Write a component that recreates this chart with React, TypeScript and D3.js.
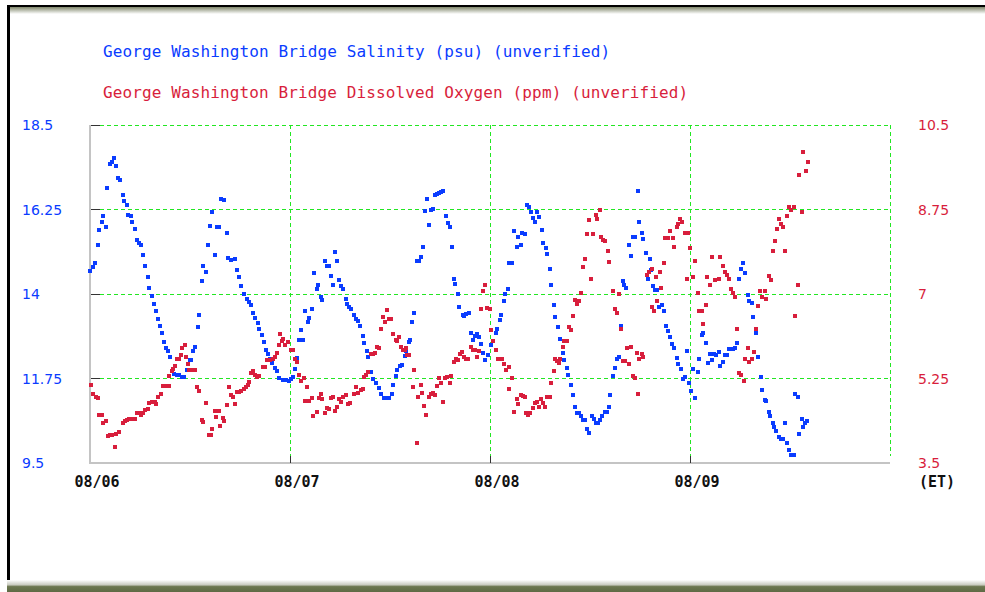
import * as d3 from 'd3';
import React, { useEffect, useRef } from 'react';

const salinityTitle = 'George Washington Bridge Salinity (psu) (unverified)';
const oxygenTitle = 'George Washington Bridge Dissolved Oxygen (ppm) (unverified)';
const dayLabels = ['08/06', '08/07', '08/08', '08/09'];
const dayHours = [0, 24, 48, 72];
const salinityTicks = [9.5, 11.75, 14, 16.25, 18.5];
const oxygenTicks = [3.5, 5.25, 7, 8.75, 10.5];

// [hours since 08/06 00:00 ET, psu]
const salinity: [number, number][] = [
  [0, 14.6], [0.32, 14.71], [0.6, 14.82], [0.92, 15.3], [1.12, 15.7], [1.4, 15.93], [1.6, 16.07], [1.92, 15.78],
  [2.08, 16.81], [2.4, 17.45], [2.6, 17.51], [2.88, 17.61], [3.08, 17.4], [3.4, 17.1], [3.6, 17.03], [3.92, 16.63],
  [4.12, 16.48], [4.4, 16.36], [4.6, 16.1], [4.88, 16.07], [5.08, 15.93], [5.44, 15.74], [5.6, 15.44], [5.92, 15.37],
  [6.12, 15.3], [6.4, 15.03], [6.6, 14.74], [6.92, 14.45], [7.12, 14.15], [7.4, 13.96], [7.64, 13.74], [7.92, 13.56],
  [8.12, 13.33], [8.4, 13.15], [8.6, 12.97], [8.92, 12.71], [9.12, 12.55], [9.36, 12.47], [9.6, 12.33], [10.08, 11.86],
  [10.4, 11.84], [10.72, 11.83], [11.0, 11.8], [11.28, 11.78], [11.64, 11.98], [11.96, 12.25], [12.16, 12.25], [12.4, 12.48],
  [12.64, 12.6], [12.96, 13.12], [13.12, 13.44], [13.44, 14.34], [13.6, 14.74], [13.92, 14.58], [14.12, 15.3], [14.44, 15.81],
  [14.6, 16.19], [14.96, 15.04], [15.2, 15.78], [15.52, 15.78], [15.68, 16.53], [16.08, 16.49], [16.48, 15.63], [16.6, 14.97],
  [16.96, 14.91], [17.36, 14.92], [17.6, 14.64], [17.92, 14.46], [18.16, 14.2], [18.48, 13.99], [18.8, 13.86], [19.12, 13.79],
  [19.36, 13.71], [19.6, 13.49], [19.84, 13.35], [20.12, 13.22], [20.32, 13.07], [20.6, 12.91], [20.84, 12.71], [21.12, 12.51],
  [21.36, 12.39], [21.6, 12.26], [21.84, 12.15], [22.16, 12.02], [22.4, 11.96], [22.64, 11.76], [23.12, 11.71], [23.52, 11.71],
  [23.92, 11.69], [24.16, 11.75], [24.4, 11.8], [24.64, 11.99], [24.88, 12.3], [25.12, 12.78], [25.36, 13.04], [25.52, 12.78],
  [25.84, 13.56], [26.16, 13.26], [26.32, 13.36], [26.64, 13.59], [26.88, 14.55], [27.2, 14.12], [27.36, 14.23], [27.68, 13.91],
  [27.84, 13.84], [28.16, 14.89], [28.4, 14.75], [28.64, 14.75], [28.88, 14.48], [29.2, 14.23], [29.36, 15.11], [29.68, 14.89],
  [29.84, 14.37], [30.16, 14.21], [30.4, 14.14], [30.72, 13.88], [30.88, 13.73], [31.12, 13.66], [31.36, 13.59], [31.68, 13.43],
  [31.92, 13.33], [32.16, 13.27], [32.4, 13.15], [32.72, 12.88], [32.88, 12.7], [33.2, 12.48], [33.36, 12.33], [33.68, 11.93],
  [34.0, 11.75], [34.32, 11.64], [34.64, 11.51], [34.96, 11.34], [35.28, 11.23], [35.6, 11.23], [35.92, 11.23], [36.24, 11.34],
  [36.4, 11.59], [36.72, 11.82], [36.88, 11.97], [37.2, 12.08], [37.44, 12.12], [37.76, 12.35], [37.92, 12.49], [38.24, 12.72],
  [38.4, 12.78], [38.64, 13.26], [38.88, 13.49], [39.2, 14.89], [39.44, 14.89], [39.68, 14.99], [39.92, 15.26], [40.16, 16.22],
  [40.4, 16.54], [40.64, 15.85], [40.88, 16.24], [41.2, 16.27], [41.36, 16.63], [41.68, 16.66], [41.92, 16.7], [42.16, 16.72],
  [42.4, 16.73], [42.72, 16.09], [42.96, 15.9], [43.2, 15.78], [43.44, 15.26], [43.68, 14.41], [43.84, 14.27], [44.16, 14.0],
  [44.32, 13.66], [44.72, 13.43], [44.88, 13.42], [45.12, 13.47], [45.44, 13.49], [45.76, 12.97], [45.92, 12.78], [46.16, 12.88],
  [46.4, 12.93], [46.64, 12.86], [46.96, 12.67], [47.2, 12.44], [47.44, 12.23], [47.76, 12.37], [48.16, 12.63], [48.4, 12.76],
  [48.72, 12.95], [48.88, 13.08], [49.2, 13.31], [49.36, 13.45], [49.68, 13.81], [49.84, 14.0], [50.16, 14.14], [50.32, 14.82],
  [50.64, 14.82], [50.88, 15.67], [51.2, 15.26], [51.36, 15.51], [51.68, 15.3], [51.84, 15.63], [52.24, 15.6], [52.4, 16.36],
  [52.72, 16.31], [52.88, 16.18], [53.2, 16.02], [53.36, 15.92], [53.68, 16.18], [53.92, 16.04], [54.24, 15.7], [54.4, 15.37],
  [54.72, 15.23], [54.88, 15.07], [55.2, 14.66], [55.36, 14.23], [55.68, 13.7], [55.84, 13.38], [56.16, 13.11], [56.4, 12.81],
  [56.72, 12.44], [56.88, 12.23], [57.2, 12.03], [57.36, 11.85], [57.76, 11.59], [57.92, 11.3], [58.16, 11.0], [58.4, 10.84],
  [58.64, 10.82], [58.88, 10.75], [59.2, 10.65], [59.44, 10.65], [59.68, 10.4], [59.92, 10.29], [60.24, 10.75], [60.48, 10.66],
  [60.72, 10.56], [60.96, 10.56], [61.2, 10.65], [61.44, 10.75], [61.76, 10.86], [62.0, 10.86], [62.24, 10.98], [62.4, 11.3],
  [62.72, 11.82], [62.96, 12.03], [63.2, 12.26], [63.44, 12.33], [63.76, 13.15], [63.92, 14.34], [64.08, 14.25], [64.32, 14.16],
  [64.72, 15.3], [64.88, 15.01], [65.2, 15.51], [65.44, 15.51], [65.76, 16.73], [65.92, 15.92], [66.24, 15.62], [66.4, 15.47],
  [66.72, 15.1], [66.96, 14.41], [67.2, 14.92], [67.36, 14.64], [67.52, 14.21], [67.84, 14.11], [68.08, 14.11], [68.32, 13.66],
  [68.64, 13.7], [68.88, 13.56], [69.12, 13.15], [69.36, 13.01], [69.6, 12.85], [69.84, 12.67], [70.08, 12.55], [70.4, 12.3],
  [70.56, 12.14], [70.88, 11.99], [71.12, 11.75], [71.44, 11.78], [71.6, 12.49], [71.92, 11.64], [72.08, 11.41], [72.4, 12.01],
  [72.64, 11.23], [72.96, 11.92], [73.12, 12.26], [73.44, 12.9], [73.6, 12.97], [73.92, 12.7], [74.16, 12.15], [74.4, 12.4],
  [74.64, 12.23], [74.88, 12.4], [75.12, 12.37], [75.44, 12.46], [75.6, 12.08], [75.92, 12.19], [76.16, 12.37], [76.4, 12.37],
  [76.64, 12.53], [76.88, 12.53], [77.12, 12.54], [77.44, 12.56], [77.6, 12.7], [77.92, 14.41], [78.16, 14.66], [78.4, 14.82],
  [78.64, 14.55], [78.96, 13.97], [79.12, 13.82], [79.44, 13.77], [79.6, 13.4], [79.92, 12.95], [80.16, 12.33], [80.48, 11.78],
  [80.64, 11.44], [80.96, 11.18], [81.12, 11.14], [81.44, 10.86], [81.6, 10.75], [81.92, 10.56], [82.08, 10.45], [82.32, 10.34],
  [82.64, 10.18], [82.88, 10.15], [83.12, 10.13], [83.44, 10.56], [83.68, 10.04], [83.92, 9.85], [84.16, 9.7], [84.48, 9.7],
  [84.64, 11.34], [84.96, 11.25], [85.12, 10.27], [85.44, 10.66], [85.6, 10.45], [85.84, 10.56], [86.08, 10.63],
];

// [hours since 08/06 00:00 ET, ppm]
const oxygen: [number, number][] = [
  [0.08, 5.11], [0.4, 4.93], [0.72, 4.87], [0.96, 4.85], [1.12, 4.5], [1.4, 4.5], [1.6, 4.32], [1.92, 4.38],
  [2.12, 4.05], [2.4, 4.08], [2.64, 4.09], [2.96, 3.84], [3.12, 4.11], [3.44, 4.15], [3.92, 4.32], [4.16, 4.36],
  [4.4, 4.39], [4.72, 4.41], [5.12, 4.41], [5.44, 4.41], [5.6, 4.54], [5.92, 4.53], [6.16, 4.49], [6.4, 4.54],
  [6.64, 4.6], [6.96, 4.61], [7.12, 4.75], [7.44, 4.76], [7.76, 4.76], [7.92, 4.72], [8.16, 4.87], [8.48, 4.93],
  [8.8, 5.1], [9.12, 5.1], [9.44, 5.1], [9.52, 5.3], [9.84, 5.41], [10.0, 5.44], [10.24, 5.51], [10.4, 5.65],
  [10.64, 5.65], [10.88, 5.73], [11.04, 5.88], [11.36, 5.94], [11.52, 5.7], [11.76, 5.54], [11.92, 5.43], [12.16, 5.43],
  [12.4, 5.43], [12.64, 5.43], [12.88, 5.08], [13.12, 4.99], [13.44, 4.4], [13.6, 4.34], [13.92, 4.74], [14.24, 4.07],
  [14.48, 4.07], [14.64, 4.21], [14.96, 4.58], [15.12, 4.46], [15.44, 4.58], [15.6, 4.27], [16.0, 4.43], [16.08, 4.36],
  [16.48, 4.7], [16.64, 5.07], [16.96, 4.9], [17.12, 4.86], [17.44, 4.73], [17.6, 4.98], [17.92, 4.98], [18.16, 5.0],
  [18.48, 5.03], [18.72, 5.08], [18.96, 5.12], [19.12, 5.18], [19.36, 5.36], [19.52, 5.41], [19.84, 5.32], [20.0, 5.29],
  [20.32, 5.3], [20.72, 5.48], [21.04, 5.48], [21.28, 5.63], [21.6, 5.63], [21.92, 5.66], [22.16, 5.69], [22.4, 5.77],
  [22.64, 5.94], [22.8, 6.17], [23.04, 6.03], [23.2, 6.06], [23.36, 5.94], [23.76, 6.01], [24.08, 5.85], [24.32, 5.84],
  [24.56, 5.66], [24.8, 5.59], [25.12, 5.32], [25.36, 5.19], [25.68, 5.27], [25.84, 4.79], [26.08, 5.07], [26.24, 4.79],
  [26.64, 4.85], [26.8, 4.47], [27.2, 4.56], [27.44, 4.85], [27.68, 4.92], [27.84, 4.82], [28.16, 4.53], [28.4, 4.64],
  [28.72, 4.61], [28.96, 4.85], [29.2, 4.86], [29.36, 4.58], [29.6, 4.65], [29.84, 4.82], [30.08, 4.76], [30.4, 4.86],
  [30.72, 4.9], [30.96, 4.72], [31.2, 4.75], [31.68, 4.93], [31.92, 5.07], [32.16, 4.94], [32.48, 5.01], [32.72, 5.04],
  [32.88, 5.29], [33.12, 5.32], [33.36, 5.39], [33.68, 5.76], [34.0, 5.76], [34.24, 5.77], [34.4, 5.91], [34.64, 5.88],
  [34.88, 6.28], [35.12, 6.53], [35.36, 6.41], [35.6, 6.66], [35.92, 6.49], [36.16, 6.49], [36.32, 6.17], [36.72, 6.05],
  [36.88, 6.03], [37.12, 6.1], [37.36, 5.91], [37.52, 5.85], [37.76, 5.83], [37.92, 5.88], [38.08, 5.74], [38.32, 5.73],
  [38.72, 5.08], [38.88, 5.43], [39.2, 3.92], [39.36, 4.87], [39.68, 5.11], [39.84, 4.94], [40.08, 4.69], [40.32, 4.5],
  [40.64, 4.87], [40.96, 4.93], [41.2, 4.94], [41.44, 4.9], [41.68, 5.09], [41.92, 5.27], [42.16, 5.16], [42.32, 4.76],
  [42.64, 5.27], [42.88, 5.29], [43.2, 5.16], [43.36, 5.3], [43.68, 5.59], [43.92, 5.65], [44.16, 5.63], [44.4, 5.76],
  [44.64, 5.79], [44.88, 5.69], [45.12, 5.66], [45.36, 5.65], [45.68, 5.9], [45.92, 5.85], [46.16, 5.83], [46.4, 5.7],
  [46.64, 5.81], [46.88, 6.68], [47.2, 7.06], [47.36, 7.18], [47.68, 6.7], [48.0, 6.68], [48.16, 6.25], [48.4, 6.03],
  [48.72, 5.83], [48.96, 5.65], [49.28, 5.65], [49.44, 5.65], [49.68, 5.54], [49.92, 5.43], [50.24, 5.48], [50.32, 5.03],
  [50.64, 5.27], [50.88, 4.56], [51.2, 4.82], [51.36, 4.72], [51.68, 4.9], [51.92, 4.89], [52.24, 4.87], [52.32, 4.53],
  [52.56, 4.5], [52.8, 4.54], [53.2, 4.63], [53.36, 4.75], [53.6, 4.76], [53.92, 4.67], [54.16, 4.82], [54.32, 4.75],
  [54.64, 4.65], [54.88, 4.87], [55.2, 4.87], [55.36, 5.16], [55.68, 5.4], [55.84, 5.65], [56.08, 5.62], [56.24, 5.58],
  [56.4, 5.65], [56.72, 5.91], [56.88, 6.02], [57.2, 6.02], [57.44, 6.32], [57.76, 6.25], [57.92, 6.54], [58.24, 6.88],
  [58.4, 6.79], [58.64, 6.86], [58.88, 7.03], [59.2, 7.55], [59.36, 7.72], [59.68, 8.24], [59.92, 8.53], [60.16, 7.32],
  [60.4, 8.24], [60.72, 8.64], [60.88, 8.56], [61.2, 8.74], [61.36, 8.19], [61.6, 8.12], [61.84, 8.09], [62.16, 7.9],
  [62.32, 7.66], [62.72, 7.06], [62.96, 6.68], [63.28, 6.6], [63.44, 7.0], [63.76, 6.28], [64.0, 5.61], [64.24, 5.61],
  [64.4, 5.88], [64.64, 5.54], [64.88, 5.91], [65.12, 5.3], [65.36, 5.27], [65.6, 5.77], [65.76, 4.93], [65.92, 5.65],
  [66.24, 5.76], [66.4, 5.7], [66.88, 7.4], [67.12, 7.46], [67.44, 7.51], [67.44, 6.74], [67.68, 6.65], [67.92, 7.35],
  [68.08, 6.86], [68.4, 7.46], [68.56, 7.12], [68.88, 7.64], [69.04, 8.17], [69.36, 8.17], [69.6, 8.3], [69.92, 8.17],
  [70.08, 7.98], [70.4, 8.39], [70.56, 8.44], [70.8, 8.55], [71.04, 8.49], [71.44, 8.26], [71.6, 7.32], [71.76, 8.26],
  [72.0, 7.95], [72.4, 7.35], [72.64, 7.69], [72.96, 7.03], [73.12, 6.65], [73.44, 6.65], [73.5, 6.38], [73.92, 6.77],
  [74.08, 7.35], [74.4, 7.18], [74.64, 7.77], [74.96, 7.29], [75.44, 7.32], [75.6, 7.77], [75.92, 7.58], [76.16, 7.46],
  [76.4, 7.4], [76.64, 7.32], [76.88, 7.1], [77.12, 7.03], [77.44, 6.94], [77.6, 6.28], [77.92, 5.36], [78.16, 5.33],
  [78.48, 5.19], [78.64, 5.65], [78.96, 5.88], [79.12, 5.59], [79.44, 5.65], [79.68, 5.8], [79.92, 6.28], [80.16, 6.75],
  [80.4, 7.06], [80.64, 6.94], [80.96, 7.06], [81.12, 6.89], [81.44, 7.37], [81.68, 7.29], [82.0, 7.9], [82.16, 8.09],
  [82.48, 8.35], [82.72, 8.55], [82.96, 8.45], [83.12, 8.38], [83.44, 7.9], [83.68, 8.62], [83.92, 8.8], [84.16, 8.75],
  [84.48, 8.81], [84.64, 6.54], [84.96, 7.18], [85.12, 9.47], [85.44, 8.7], [85.6, 9.94], [85.92, 9.55], [86.16, 9.73],
];

const blue = '#0a3cff';
const red = '#d81e3c';
const grid = '#22e622';

function App() {
  const ref = useRef<SVGSVGElement>(null);

  useEffect(() => {
    const svg = d3.select(ref.current);
    svg.selectAll('*').remove();

    const left = 90, right = 890, top = 125, bottom = 463;
    const x = d3.scaleLinear().domain([0, 96]).range([left, right]);
    const ySal = d3.scaleLinear().domain([9.5, 18.5]).range([bottom, top]);
    const yDo = d3.scaleLinear().domain([3.5, 10.5]).range([bottom, top]);
    // snap 1px lines onto whole pixels
    const px = (v: number) => Math.floor(v + 0.01) + 0.5;

    // frame
    const defs = svg.append('defs');
    const topShade = defs.append('linearGradient').attr('id', 'topShade').attr('x1', 0).attr('y1', 0).attr('x2', 0).attr('y2', 1);
    topShade.append('stop').attr('offset', '0%').attr('stop-color', '#7f866a');
    topShade.append('stop').attr('offset', '100%').attr('stop-color', '#ffffff');
    const botShade = defs.append('linearGradient').attr('id', 'botShade').attr('x1', 0).attr('y1', 0).attr('x2', 0).attr('y2', 1);
    botShade.append('stop').attr('offset', '0%').attr('stop-color', '#ffffff');
    botShade.append('stop').attr('offset', '40%').attr('stop-color', '#c9cbc0');
    botShade.append('stop').attr('offset', '55%').attr('stop-color', '#6c7750');
    botShade.append('stop').attr('offset', '100%').attr('stop-color', '#5f6a44');

    svg.append('rect').attr('x', 0).attr('y', 0).attr('width', 985).attr('height', 592).attr('fill', '#ffffff');
    svg.append('rect').attr('x', 10).attr('y', 7).attr('width', 975).attr('height', 7).attr('fill', 'url(#topShade)');
    svg.append('rect').attr('x', 7).attr('y', 5).attr('width', 978).attr('height', 2).attr('fill', '#000');
    svg.append('rect').attr('x', 7).attr('y', 5).attr('width', 3).attr('height', 578).attr('fill', '#000');
    svg.append('rect').attr('x', 7).attr('y', 580).attr('width', 978).attr('height', 12).attr('fill', 'url(#botShade)');

    // titles
    svg.append('text').attr('x', 103).attr('y', 57)
      .style('font-family', '"DejaVu Sans Mono", monospace').style('font-size', '16px').style('letter-spacing', '0.12px')
      .attr('fill', blue).text(salinityTitle);
    svg.append('text').attr('x', 103).attr('y', 98)
      .style('font-family', '"DejaVu Sans Mono", monospace').style('font-size', '16px').style('letter-spacing', '0.12px')
      .attr('fill', red).text(oxygenTitle);

    // grid
    const g = svg.append('g');
    g.selectAll('.hgrid').data(salinityTicks.slice(1)).enter().append('line')
      .attr('x1', left + 10).attr('x2', right)
      .attr('y1', d => px(ySal(d))).attr('y2', d => px(ySal(d)))
      .attr('stroke', grid).attr('stroke-dasharray', '4,3').attr('shape-rendering', 'crispEdges');
    g.selectAll('.vgrid').data([24, 48, 72, 96]).enter().append('line')
      .attr('x1', d => px(x(d))).attr('x2', d => px(x(d)))
      .attr('y1', top).attr('y2', bottom - 7)
      .attr('stroke', grid).attr('stroke-dasharray', '4,3').attr('shape-rendering', 'crispEdges');

    // axes
    g.append('line').attr('x1', left).attr('x2', left).attr('y1', top).attr('y2', bottom + 1)
      .attr('stroke', '#c4c4c4').attr('stroke-width', 2);
    g.append('line').attr('x1', left - 1).attr('x2', right).attr('y1', bottom).attr('y2', bottom)
      .attr('stroke', '#c4c4c4').attr('stroke-width', 2);
    g.selectAll('.ytick').data(salinityTicks.slice(1)).enter().append('line')
      .attr('x1', left + 1).attr('x2', left + 10)
      .attr('y1', d => px(ySal(d))).attr('y2', d => px(ySal(d)))
      .attr('stroke', '#333').attr('shape-rendering', 'crispEdges');
    g.selectAll('.xtick').data([24, 48, 72]).enter().append('line')
      .attr('x1', d => px(x(d))).attr('x2', d => px(x(d)))
      .attr('y1', bottom - 7).attr('y2', bottom)
      .attr('stroke', '#333').attr('shape-rendering', 'crispEdges');

    // tick labels
    g.selectAll('.ylab').data(salinityTicks).enter().append('text')
      .attr('x', 22).attr('y', d => ySal(d) + 5)
      .style('font-family', '"DejaVu Sans", sans-serif').style('font-size', '14px')
      .attr('fill', blue).text(d => String(d));
    g.selectAll('.rlab').data(oxygenTicks).enter().append('text')
      .attr('x', 918).attr('y', d => yDo(d) + 5)
      .style('font-family', '"DejaVu Sans", sans-serif').style('font-size', '14px')
      .attr('fill', red).text(d => String(d));
    g.selectAll('.xlab').data(dayLabels).enter().append('text')
      .attr('x', (d, i) => x(dayHours[i]) + 7).attr('y', 487)
      .attr('text-anchor', 'middle')
      .style('font-family', '"DejaVu Sans Mono", monospace').style('font-size', '15px').style('font-weight', 'bold')
      .attr('fill', '#111').text(d => d);
    g.append('text').attr('x', 919).attr('y', 487)
      .style('font-family', '"DejaVu Sans Mono", monospace').style('font-size', '15px').style('font-weight', 'bold')
      .attr('fill', '#111').text('(ET)');

    // points
    g.selectAll('.sal').data(salinity).enter().append('rect')
      .attr('x', d => Math.round(x(d[0])) - 2).attr('y', d => Math.round(ySal(d[1])) - 2)
      .attr('width', 4).attr('height', 4).attr('fill', blue);
    g.selectAll('.do').data(oxygen).enter().append('rect')
      .attr('x', d => Math.round(x(d[0])) - 2).attr('y', d => Math.round(yDo(d[1])) - 2)
      .attr('width', 4).attr('height', 4).attr('fill', red);
  }, []);

  return (
    <svg ref={ref} width={985} height={592}
      style={{ position: 'absolute', left: 0, top: 0, display: 'block' }} />
  );
}

export default App;
